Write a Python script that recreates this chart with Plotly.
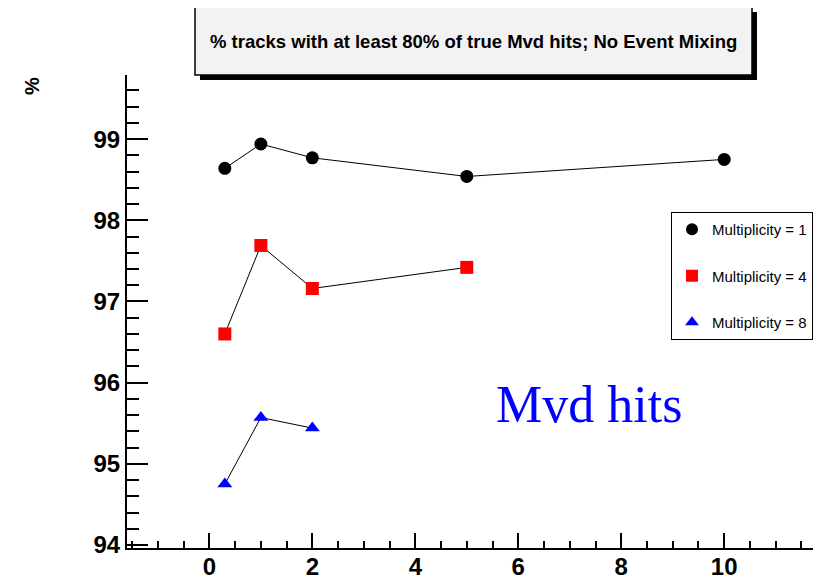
import plotly.graph_objects as go

# ---- data ----
x_m1 = [0.3, 1, 2, 5, 10]
y_m1 = [98.64, 98.94, 98.77, 98.54, 98.75]
x_m4 = [0.3, 1, 2, 5]
y_m4 = [96.60, 97.69, 97.16, 97.42]
x_m8 = [0.3, 1, 2]
y_m8 = [94.75, 95.57, 95.44]
names = ["Multiplicity = 1", "Multiplicity = 4", "Multiplicity = 8"]
title_text = "% tracks with at least 80% of true Mvd hits; No Event Mixing"
y_title = "%"
overlay_text = "Mvd hits"

# page body has an 8px default margin; compensate so page pixels match
OFF = 8
W, H = 821 - OFF, 580 - OFF
L, R, T = 127 - OFF, 0, 75 - OFF
B = H - (548 - OFF)
PW, PH = W - L - R, H - T - B


def px(xp):  # page pixel -> paper x
    return (xp - OFF - L) / PW


def py(yp):  # page pixel -> paper y
    return (H - B - (yp - OFF)) / PH


fig = go.Figure()
series = [
    (x_m1, y_m1, names[0], "circle", "black"),
    (x_m4, y_m4, names[1], "square", "#ff0000"),
    (x_m8, y_m8, names[2], "triangle-up", "#0000ff"),
]
for i, (xs, ys, nm, sym, col) in enumerate(series):
    fig.add_trace(go.Scatter(x=xs, y=ys, mode="lines", showlegend=False,
                             line=dict(color="black", width=1), hoverinfo="skip"))
for i, (xs, ys, nm, sym, col) in enumerate(series):
    fig.add_trace(go.Scatter(x=xs, y=ys, mode="markers", name=nm,
                             legendgroup="g%d" % i,
                             marker=dict(symbol=sym, size=13, color=col)))

tickfont = dict(family="Liberation Sans", size=24, color="black", weight="bold")
fig.update_xaxes(range=[-1.6, 11.88], showline=True, linecolor="black", linewidth=2,
                 ticks="inside", ticklen=15, tickwidth=1.5, tickcolor="black",
                 dtick=2, tick0=0, tickfont=tickfont, showgrid=False, zeroline=False,
                 ticklabelstandoff=-4,
                 minor=dict(dtick=0.5, ticks="inside", ticklen=7, tickwidth=1.5,
                            tickcolor="black", showgrid=False))
fig.update_yaxes(range=[93.963, 99.79], showline=True, linecolor="black", linewidth=2,
                 ticks="inside", ticklen=21, tickwidth=1.5, tickcolor="black",
                 dtick=1, tick0=94, tickfont=tickfont, showgrid=False, zeroline=False,
                 minor=dict(dtick=0.2, ticks="inside", ticklen=12, tickwidth=1.5,
                            tickcolor="black", showgrid=False))

shapes = [
    dict(type="rect", xref="paper", yref="paper",
         x0=px(200), x1=px(757), y0=py(80), y1=py(12),
         fillcolor="black", line=dict(width=0), layer="above"),
    dict(type="rect", xref="paper", yref="paper",
         x0=px(195), x1=px(752), y0=py(75), y1=py(7),
         fillcolor="#f2f2f2", line=dict(color="black", width=1.5), layer="above"),
]

annotations = [
    dict(text=title_text, xref="paper", yref="paper", x=px(473.5), y=py(41),
         xanchor="center", yanchor="middle", showarrow=False,
         font=dict(family="Liberation Sans", size=18.5, color="black", weight="bold")),
    dict(text=y_title, xref="paper", yref="paper", x=px(32), y=py(86),
         xanchor="center", yanchor="middle", showarrow=False, textangle=-90,
         font=dict(family="Liberation Sans", size=20, color="black", weight="bold")),
    dict(text=overlay_text, xref="paper", yref="paper", x=px(589), y=py(404),
         xanchor="center", yanchor="middle", showarrow=False,
         font=dict(family="Liberation Serif", size=52, color="#0000ff")),
]

fig.update_layout(
    width=W, height=H,
    margin=dict(l=L, r=R, t=T, b=B, autoexpand=False),
    paper_bgcolor="white", plot_bgcolor="white",
    shapes=shapes, annotations=annotations,
    showlegend=True,
    legend=dict(x=px(671), y=py(212), xanchor="left", yanchor="top",
                bgcolor="white", bordercolor="black", borderwidth=1,
                font=dict(family="Liberation Sans", size=15, color="black"),
                tracegroupgap=24, itemsizing="constant"),
)

fig.write_html("out.html")
